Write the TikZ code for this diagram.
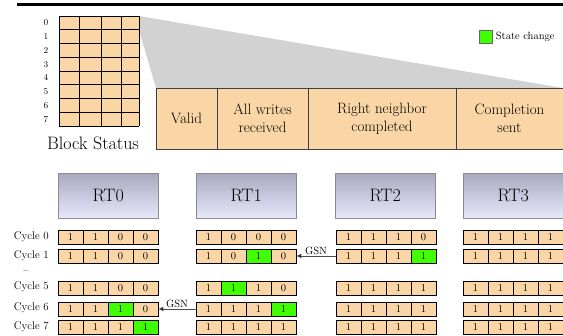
\documentclass[tikz,border=0pt]{standalone}
\usetikzlibrary{positioning,arrows.meta}

\definecolor{peach}{RGB}{250,214,166}
\definecolor{flipgreen}{RGB}{64,255,0}
\definecolor{wedgegray}{RGB}{210,210,210}
\definecolor{rttop}{RGB}{168,168,192}
\definecolor{rtbot}{RGB}{232,232,252}

\tikzset{
  statusbox/.style={draw=black!75, fill=peach, line width=0.8pt, outer sep=0pt,
    minimum height=61pt, inner sep=0pt, align=center, font=\fontsize{15}{18}\selectfont},
  rtbox/.style={draw=black!45, top color=rttop, bottom color=rtbot, anchor=north west,
    minimum width=100pt, minimum height=45pt, font=\fontsize{18}{21}\selectfont},
  bitcell/.style={draw=black, line width=0.7pt, minimum width=25pt, minimum height=14pt,
    inner sep=0pt, font=\fontsize{10.5}{12}\selectfont},
  cyclelabel/.style={anchor=east, inner sep=0pt, font=\fontsize{11}{13}\selectfont},
  gsnarrow/.style={draw=black!70, line width=0.8pt, -{Latex[length=5pt,width=5pt,fill=black]}},
  gsnlabel/.style={above, inner sep=1pt, font=\fontsize{10.5}{12}\selectfont},
}

% one row of four status bits, #5 = index of the changed bit (0 = none)
\newcommand{\bitrow}[5]{%
  \foreach \v [count=\k] in {#4}{%
    \ifnum\k=#5\def\cellcol{flipgreen}\else\def\cellcol{peach}\fi
    \node[bitcell, fill=\cellcol] (#1b\k) at ({#2+(\k-0.5)*25},#3) {\v};
  }%
}

\begin{document}
\begin{tikzpicture}[x=1pt,y=-1pt]
\useasboundingbox (0,0) rectangle (563,336);

% top rule
\draw[line width=3.5pt] (17,4.3) -- (563,4.3);

% block status table
\node[statusbox, minimum width=61pt, anchor=north west] (valid) at (156,88) {Valid};
\node[statusbox, minimum width=91pt, right=0pt of valid] (allwrites) {All writes\\received};
\node[statusbox, minimum width=148pt, right=0pt of allwrites] (rightnb) {Right neighbor\\completed};
\node[statusbox, minimum width=107pt, right=0pt of rightnb] (complsent) {Completion\\sent};
\fill[wedgegray] (139,16) -- (complsent.north east) -- (valid.north west) -- (139,30) -- cycle;

\fill[peach] (59,16) rectangle (139,126);
\foreach \i in {0,...,8}
  \draw[line width=0.7pt] (59,{16+\i*13.75}) -- (139,{16+\i*13.75});
\foreach \xx in {59,79,101,121,139}
  \draw[line width=0.7pt] (\xx,16) -- (\xx,126);
\foreach \i in {0,...,7}
  \node[inner sep=0pt, font=\fontsize{9}{10}\selectfont] (blk\i) at (46,{22.9+\i*13.75}) {\i};
\node[font=\fontsize{18}{21}\selectfont] (blockstatus) at (93,143) {Block Status};

% legend
\node[draw=black!60, fill=flipgreen, minimum size=13pt, inner sep=0pt] (legendsq) at (486,36.5) {};
\node[right=3pt of legendsq, inner sep=0pt, font=\fontsize{10.5}{12}\selectfont] (legendtxt) {State change};

% runtimes
\node[rtbox] (rt0) at (58,173) {RT0};
\node[rtbox] (rt1) at (196,173) {RT1};
\node[rtbox] (rt2) at (335,173) {RT2};
\node[rtbox] (rt3) at (463,173) {RT3};

% cycles
\node[cyclelabel] (cyc0) at (49,237) {Cycle 0};
\node[cyclelabel] (cyc1) at (49,256) {Cycle 1};
\node[inner sep=0pt, font=\fontsize{9}{10}\selectfont] (dots) at (26,271) {\ldots};
\node[cyclelabel] (cyc5) at (49,287) {Cycle 5};
\node[cyclelabel] (cyc6) at (49,308) {Cycle 6};
\node[cyclelabel] (cyc7) at (49,327) {Cycle 7};

\bitrow{rt0c0}{58}{237}{1,1,0,0}{0}
\bitrow{rt0c1}{58}{256}{1,1,0,0}{0}
\bitrow{rt0c5}{58}{288}{1,1,0,0}{0}
\bitrow{rt0c6}{58}{309}{1,1,1,0}{3}
\bitrow{rt0c7}{58}{327.5}{1,1,1,1}{4}

\bitrow{rt1c0}{196}{237}{1,0,0,0}{0}
\bitrow{rt1c1}{196}{256}{1,0,1,0}{3}
\bitrow{rt1c5}{196}{288}{1,1,1,0}{2}
\bitrow{rt1c6}{196}{309}{1,1,1,1}{4}
\bitrow{rt1c7}{196}{327.5}{1,1,1,1}{0}

\bitrow{rt2c0}{336}{237}{1,1,1,0}{0}
\bitrow{rt2c1}{336}{256}{1,1,1,1}{4}
\bitrow{rt2c5}{336}{288}{1,1,1,1}{0}
\bitrow{rt2c6}{336}{309}{1,1,1,1}{0}
\bitrow{rt2c7}{336}{327.5}{1,1,1,1}{0}

\bitrow{rt3c0}{463}{237}{1,1,1,1}{0}
\bitrow{rt3c1}{463}{256}{1,1,1,1}{0}
\bitrow{rt3c5}{463}{288}{1,1,1,1}{0}
\bitrow{rt3c6}{463}{309}{1,1,1,1}{0}
\bitrow{rt3c7}{463}{327.5}{1,1,1,1}{0}

% completion notices
\draw[gsnarrow] (rt2c1b1.west) -- node[gsnlabel] (gsn1) {GSN} (rt1c1b4.east);
\draw[gsnarrow] (rt1c6b1.west) -- node[gsnlabel] (gsn6) {GSN} (rt0c6b4.east);
\end{tikzpicture}
\end{document}
